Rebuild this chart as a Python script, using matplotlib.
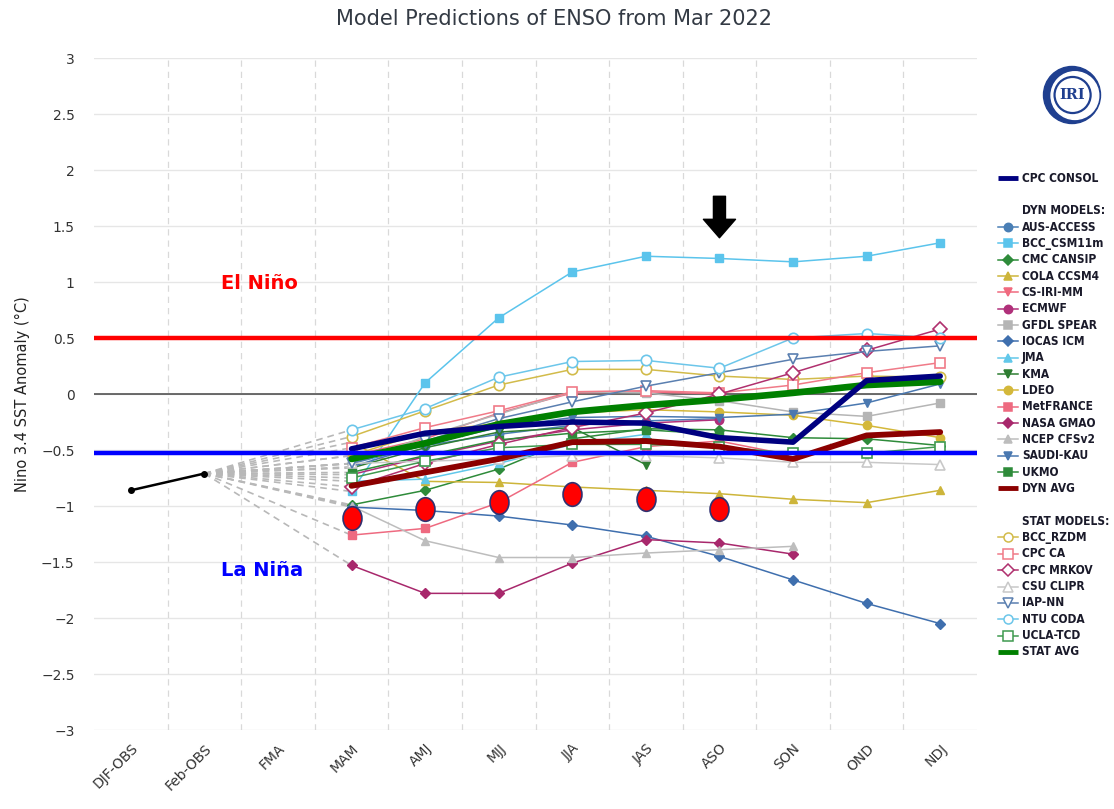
import numpy as np
import matplotlib
matplotlib.use("Agg")
import matplotlib.pyplot as plt
from matplotlib.path import Path
from matplotlib.transforms import Affine2D
from matplotlib.patches import Circle, FancyArrowPatch

nan = np.nan

##############################################################################
# Data
seasons = ['DJF-OBS', 'Feb-OBS', 'FMA', 'MAM', 'AMJ', 'MJJ', 'JJA', 'JAS',
           'ASO', 'SON', 'OND', 'NDJ']
obs_x = [0, 1]
obs_vals = [-0.86, -0.71]
fcst_x = np.arange(3, 12)          # MAM .. NDJ

cpc_consol = [-0.49, -0.35, -0.29, -0.25, -0.26, -0.39, -0.43, 0.12, 0.16]

# dynamical models
aus_access = [-0.62, -0.46, -0.36, -0.28, -0.24, -0.22, nan, nan, nan]
bcc_csm11m = [-0.87, 0.10, 0.68, 1.09, 1.23, 1.21, 1.18, 1.23, 1.35]
cmc_cansip = [-0.99, -0.86, -0.67, -0.40, -0.31, -0.32, -0.39, -0.40, -0.46]
cola_ccsm4 = [-0.43, -0.78, -0.79, -0.83, -0.86, -0.89, -0.94, -0.97, -0.86]
cs_iri_mm = [-0.55, -0.40, -0.17, 0.01, 0.02, 0.00, nan, nan, nan]
ecmwf = [-0.72, -0.56, -0.42, -0.32, -0.26, -0.23, nan, nan, nan]
gfdl_spear = [-0.62, -0.38, -0.18, 0.02, 0.01, -0.06, -0.16, -0.20, -0.08]
iocas_icm = [-1.01, -1.04, -1.09, -1.17, -1.27, -1.45, -1.66, -1.87, -2.05]
jma = [-0.78, -0.76, -0.62, -0.45, -0.36, nan, nan, nan, nan]
kma = [-0.66, -0.48, -0.34, -0.30, -0.63, nan, nan, nan, nan]
ldeo = [-0.55, -0.34, -0.26, -0.17, -0.14, -0.16, -0.19, -0.28, -0.39]
metfrance = [-1.26, -1.20, -0.97, -0.61, -0.47, -0.42, -0.55, nan, nan]
nasa_gmao = [-1.53, -1.78, -1.78, -1.51, -1.30, -1.33, -1.43, nan, nan]
ncep_cfsv2 = [-1.00, -1.31, -1.46, -1.46, -1.42, -1.39, -1.36, nan, nan]
saudi_kau = [-0.65, -0.45, -0.30, -0.21, -0.20, -0.21, -0.18, -0.08, 0.09]
ukmo = [-0.70, -0.55, -0.41, -0.35, -0.32, -0.36, nan, nan, nan]
dyn_avg = [-0.82, -0.70, -0.58, -0.43, -0.42, -0.47, -0.58, -0.37, -0.34]

# statistical models
bcc_rzdm = [-0.38, -0.15, 0.08, 0.22, 0.22, 0.16, 0.13, 0.16, 0.15]
cpc_ca = [-0.48, -0.30, -0.15, 0.02, 0.03, 0.01, 0.08, 0.19, 0.28]
cpc_mrkov = [-0.83, -0.62, -0.45, -0.30, -0.17, 0.00, 0.19, 0.39, 0.58]
csu_clipr = [-0.62, -0.60, -0.58, -0.55, -0.55, -0.57, -0.61, -0.61, -0.63]
iap_nn = [-0.62, -0.42, -0.22, -0.07, 0.07, 0.19, 0.31, 0.38, 0.43]
ntu_coda = [-0.32, -0.13, 0.15, 0.29, 0.30, 0.23, 0.50, 0.54, 0.50]
ucla_tcd = [-0.75, -0.60, -0.48, -0.45, -0.45, -0.47, -0.53, -0.53, -0.47]
stat_avg = [-0.58, -0.44, -0.27, -0.16, -0.10, -0.05, 0.01, 0.08, 0.11]

# hand-drawn highlight dots (MAM .. ASO) and reference lines
highlight_x = np.arange(3, 9)
highlight_vals = [-1.11, -1.03, -0.96, -0.89, -0.94, -1.03]
el_nino_level = 0.5
la_nina_level = -0.53

##############################################################################
# Styles
dyn_models = [
    ('AUS-ACCESS', aus_access, '#4a7fb5', 'o'),
    ('BCC_CSM11m', bcc_csm11m, '#5bc4ec', 's'),
    ('CMC CANSIP', cmc_cansip, '#2e8b3a', 'D'),
    ('COLA CCSM4', cola_ccsm4, '#cdb53a', '^'),
    ('CS-IRI-MM', cs_iri_mm, '#f06a7f', 'v'),
    ('ECMWF', ecmwf, '#b0307a', 'o'),
    ('GFDL SPEAR', gfdl_spear, '#b5b5b5', 's'),
    ('IOCAS ICM', iocas_icm, '#3f6fae', 'D'),
    ('JMA', jma, '#62c8ea', '^'),
    ('KMA', kma, '#2e7d32', 'v'),
    ('LDEO', ldeo, '#d4b83a', 'o'),
    ('MetFRANCE', metfrance, '#ee6a80', 's'),
    ('NASA GMAO', nasa_gmao, '#a8286c', 'D'),
    ('NCEP CFSv2', ncep_cfsv2, '#bdbdbd', '^'),
    ('SAUDI-KAU', saudi_kau, '#4a78b0', 'v'),
    ('UKMO', ukmo, '#2e8b3a', 's'),
]
stat_models = [
    ('BCC_RZDM', bcc_rzdm, '#d2bb4a', 'o'),
    ('CPC CA', cpc_ca, '#f07a88', 's'),
    ('CPC MRKOV', cpc_mrkov, '#b0306e', 'D'),
    ('CSU CLIPR', csu_clipr, '#c8c8c8', '^'),
    ('IAP-NN', iap_nn, '#5a7fb0', 'v'),
    ('NTU CODA', ntu_coda, '#6cc6ea', 'o'),
    ('UCLA-TCD', ucla_tcd, '#3f9a4f', 's'),
]
navy = '#000080'
dyn_col = '#8b0000'
stat_col = '#008000'

W, H = 1114, 809
fig = plt.figure(figsize=(W / 100, H / 100), dpi=100)

# plot area in pixels: x 94..977, y 58..730
ax = fig.add_axes([94 / W, 1 - 730 / H, (977 - 94) / W, (730 - 58) / H])
ax.set_xlim(-0.5, 11.5)
ax.set_ylim(-3, 3)

# grid
for y in np.arange(-3, 3.01, 0.5):
    ax.axhline(y, color='#e6e6e6', lw=1, zorder=0)
for x in np.arange(0.5, 11, 1):
    ax.axvline(x, color='#d9d9d9', lw=0.9, ls=(0, (5, 4)), zorder=0)
ax.axhline(0, color='#444444', lw=1.1, zorder=1)

# fan of dashed lines from the last observation to each model's first season
for name, vals, col, mk in dyn_models + stat_models:
    ax.plot([obs_x[-1], fcst_x[0]], [obs_vals[-1], vals[0]], color='#b8b8b8',
            lw=1.2, ls=(0, (4, 3)), zorder=1.5)

# observations
ax.plot(obs_x, obs_vals, color='black', lw=1.8, marker='o', ms=4, zorder=3)

# individual models
for name, vals, col, mk in dyn_models:
    ms = 5 if mk == 'D' else 6
    ax.plot(fcst_x, vals, color=col, lw=1.1, marker=mk, ms=ms, mfc=col,
            mec=col, zorder=2)
for name, vals, col, mk in stat_models:
    ax.plot(fcst_x, vals, color=col, lw=1.1, marker=mk, ms=7.5, mfc='white',
            mec=col, mew=1.2, zorder=2.2)

# averages and consolidated forecast
ax.plot(fcst_x, dyn_avg, color=dyn_col, lw=4.2, zorder=3, solid_capstyle='round')
ax.plot(fcst_x, stat_avg, color=stat_col, lw=4.8, zorder=3.1, solid_capstyle='round')
ax.plot(fcst_x, cpc_consol, color=navy, lw=4.0, zorder=3.2, solid_capstyle='round')

# El Nino / La Nina thresholds
ax.axhline(el_nino_level, color='#ff0000', lw=3.2, zorder=3.5)
ax.axhline(la_nina_level, color='#0000ff', lw=3.2, zorder=3.6)
ax.text(1.75, 0.99, 'El Niño', color='#ff0000', fontsize=14, fontweight='bold',
        ha='center', va='center')
ax.text(1.78, -1.58, 'La Niña', color='#0000ff', fontsize=14, fontweight='bold',
        ha='center', va='center')

# highlight dots
ellipse = Path.unit_circle().transformed(Affine2D().scale(0.8, 1.0))
ax.plot(highlight_x, highlight_vals, ls='none', marker=ellipse, ms=17,
        mfc='#ff0000', mec='#303070', mew=1.2, zorder=5)

# arrow above ASO
arrow = FancyArrowPatch((8, 1.79), (8, 1.37),
                        arrowstyle='simple,head_length=0.95,head_width=1.65,tail_width=0.62',
                        mutation_scale=14, color='black', zorder=6)
ax.add_patch(arrow)

# axes styling
for sp in ax.spines.values():
    sp.set_visible(False)
ax.set_xticks(range(len(seasons)))
ax.set_xticklabels(seasons, rotation=45, ha='right', rotation_mode='anchor',
                   fontsize=10, color='#333333')
yt = np.arange(-3, 3.01, 0.5)
ax.set_yticks(yt)
ax.set_yticklabels(['{:g}'.format(round(v, 1)).replace('-', '\u2212') for v in yt],
                   fontsize=10, color='#333333')
ax.tick_params(axis='y', length=0, pad=14)
ax.tick_params(axis='x', length=0, pad=8)

fig.text(22 / W, 1 - 394 / H, 'Nino 3.4 SST Anomaly (°C)', rotation=90,
         ha='center', va='center', fontsize=10.5, color='#222222')
fig.text(0.497, 1 - 19 / H, 'Model Predictions of ENSO from Mar 2022',
         ha='center', va='center', fontsize=15, color='#333a44')

##############################################################################
# Legend drawn on an overlay in pixel coordinates
lg = fig.add_axes([0, 0, 1, 1], facecolor='none')
lg.set_xlim(0, W)
lg.set_ylim(H, 0)
lg.axis('off')

row0, step = 178, 16.34
hx0, hx1, hxm, tx = 998, 1018, 1008, 1022
lfont = dict(fontsize=8.6, fontweight='bold', color='#1a1a2a', va='center',
             ha='left', family='DejaVu Sans', stretch='condensed')

def row_y(i):
    return row0 + i * step

def line_entry(i, label, col, lw):
    y = row_y(i)
    lg.plot([hx0, hx1], [y, y], color=col, lw=lw, solid_capstyle='butt')
    lg.text(tx, y, label, **lfont)

def marker_entry(i, label, col, mk, filled):
    y = row_y(i)
    lg.plot([hx0, hx1], [y, y], color=col, lw=1.1)
    lg.plot([hxm], [y], marker=mk, ms=(5 if mk == 'D' else 6) if filled else 6.5,
            mfc=col if filled else 'white', mec=col, mew=1.1)
    lg.text(tx, y, label, **lfont)

line_entry(0, 'CPC CONSOL', navy, 3.5)
lg.text(tx, row_y(2), 'DYN MODELS:', **lfont)
for k, (name, vals, col, mk) in enumerate(dyn_models):
    marker_entry(3 + k, name, col, mk, True)
line_entry(19, 'DYN AVG', dyn_col, 3.5)
lg.text(tx, row_y(21), 'STAT MODELS:', **lfont)
for k, (name, vals, col, mk) in enumerate(stat_models):
    marker_entry(22 + k, name, col, mk, False)
line_entry(29, 'STAT AVG', stat_col, 3.5)

# IRI logo
logo = fig.add_axes([1040 / W, 1 - 127 / H, 64 / W, 64 / H])
logo.set_xlim(-1.1, 1.1)
logo.set_ylim(-1.1, 1.1)
logo.set_aspect('equal')
logo.axis('off')
logo.add_patch(Circle((0, 0), 0.98, color='#1f3f8f'))
logo.add_patch(Circle((0.1, -0.02), 0.82, color='white'))
logo.add_patch(Circle((0.02, 0.0), 0.62, fill=False, ec='#1f3f8f', lw=1.6))
logo.text(0.02, 0.0, 'IRI', ha='center', va='center', fontsize=10.5,
          fontweight='bold', family='DejaVu Serif', color='#1f3f8f')

fig.savefig('out.png', dpi=100)
